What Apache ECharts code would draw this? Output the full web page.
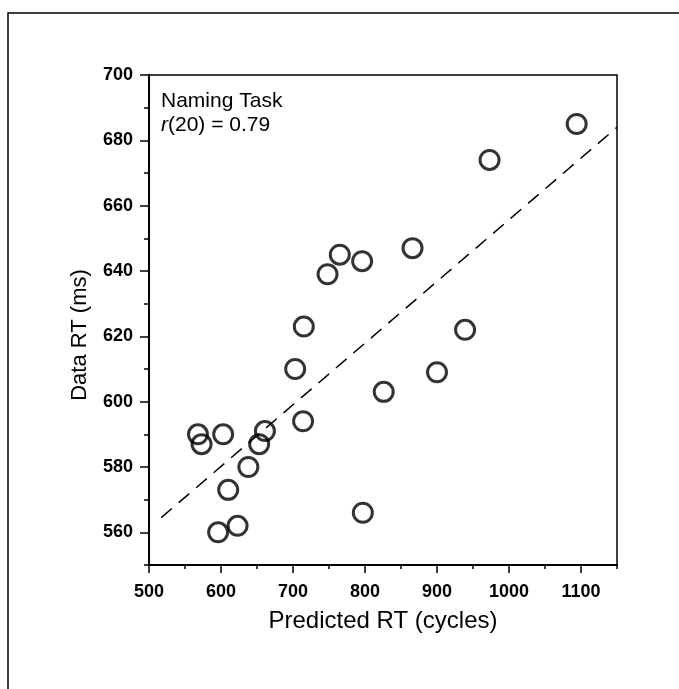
<!DOCTYPE html>
<html>
<head>
<meta charset="utf-8">
<script src="https://cdn.jsdelivr.net/npm/echarts@6/dist/echarts.min.js"></script>
<style>
html,body{margin:0;padding:0;background:#fff;}
#chart{width:679px;height:689px;}
</style>
</head>
<body>
<div id="chart"></div>
<script>
// Data
const predictedRT = [1094, 973, 866, 796, 765, 748, 715, 703, 939, 900, 826, 714, 797, 661, 653, 638, 603, 568, 573, 610, 623, 596];
const dataRT      = [685, 674, 647, 643, 645, 639, 623, 610, 622, 609, 603, 594, 566, 591, 587, 580, 590, 590, 587, 573, 562, 560];
const fitX = [517, 1150];
const fitY = [564.5, 684];
const xTicks = [500, 600, 700, 800, 900, 1000, 1100];
const xMinorTicks = [550, 650, 750, 850, 950, 1050, 1150];
const yTicks = [560, 580, 600, 620, 640, 660, 680, 700];
const yMinorTicks = [550, 570, 590, 610, 630, 650, 670, 690];

const points = predictedRT.map((x, i) => [x, dataRT[i]]);
const fitLine = fitX.map((x, i) => [x, fitY[i]]);

const chart = echarts.init(document.getElementById('chart'), null, {renderer: 'canvas'});
const font = 'Liberation Sans, Arial, Helvetica, sans-serif';

const xBase = {type: 'value', min: 500, max: 1150, splitLine: {show: false}};
const yBase = {type: 'value', min: 550, max: 700, splitLine: {show: false}};

chart.setOption({
  backgroundColor: '#fff',
  animation: false,
  grid: {left: 149, top: 75, right: 62, bottom: 124, show: true, borderColor: '#000', borderWidth: 1.5, backgroundColor: 'transparent'},
  xAxis: [
    Object.assign({}, xBase, {
      name: 'Predicted RT (cycles)', nameLocation: 'middle', nameGap: 44,
      nameTextStyle: {fontFamily: font, fontSize: 24, color: '#000'},
      axisLine: {show: true, lineStyle: {color: '#000', width: 2}},
      axisTick: {show: true, length: 8, customValues: xTicks, lineStyle: {color: '#000', width: 1.5}},
      axisLabel: {color: '#000', fontFamily: font, fontSize: 18, fontWeight: 'bold', margin: 18, customValues: xTicks,
        formatter: v => String(v)}
    }),
    Object.assign({}, xBase, {
      position: 'bottom',
      axisLine: {show: false},
      axisTick: {show: true, length: 4, customValues: xMinorTicks, lineStyle: {color: '#000', width: 1.5}},
      axisLabel: {show: false}
    })
  ],
  yAxis: [
    Object.assign({}, yBase, {
      axisLine: {show: true, lineStyle: {color: '#000', width: 2}},
      axisTick: {show: true, length: 9, customValues: yTicks, lineStyle: {color: '#000', width: 1.5}},
      axisLabel: {color: '#000', fontFamily: font, fontSize: 18, fontWeight: 'bold', margin: 16, customValues: yTicks,
        formatter: v => String(v)}
    }),
    Object.assign({}, yBase, {
      position: 'left',
      axisLine: {show: false},
      axisTick: {show: true, length: 5, customValues: yMinorTicks, lineStyle: {color: '#000', width: 1.5}},
      axisLabel: {show: false}
    })
  ],
  graphic: [
    {type: 'rect', shape: {x: 8, y: 13, width: 690, height: 700}, style: {fill: 'none', stroke: '#000', lineWidth: 1.5}, silent: true},
    {type: 'text', left: 161, top: 89, style: {
      text: 'Naming Task\n{i|r}(20) = 0.79',
      font: '21px ' + font, fill: '#000', lineHeight: 24,
      rich: {i: {fontStyle: 'italic', font: 'italic 21px ' + font, fill: '#000'}}
    }},
    {type: 'text', x: 80, y: 335, rotation: Math.PI / 2, style: {
      text: 'Data RT (ms)', font: '22px ' + font, fill: '#000', align: 'center', verticalAlign: 'middle'
    }}
  ],
  series: [
    {
      type: 'line', data: fitLine, symbol: 'none', silent: true,
      lineStyle: {color: '#000', width: 1.5, type: [14, 9]}, z: 1
    },
    {
      type: 'scatter', data: points, symbol: 'circle', symbolSize: 19,
      itemStyle: {color: 'rgba(0,0,0,0)', borderColor: '#000', borderWidth: 3}, z: 2
    }
  ]
});
</script>
</body>
</html>
